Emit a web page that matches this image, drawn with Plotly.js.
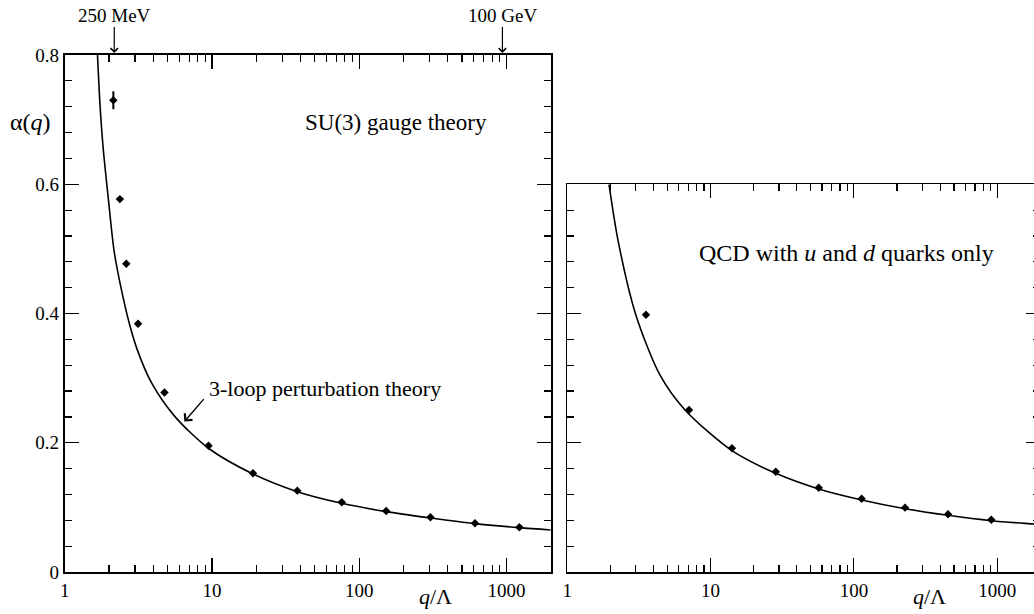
<!DOCTYPE html>
<html>
<head>
<meta charset="utf-8">
<script src="https://cdn.plot.ly/plotly-3.0.1.min.js"></script>
<style>
html,body{margin:0;padding:0;overflow:hidden;background:#fff;}
#chart{width:1042px;height:614px;}
</style>
</head>
<body>
<div id="chart"></div>
<script>
// ---- data ----
const su3Q      = [2.14, 2.37, 2.62, 3.15, 4.76, 9.48, 19.0, 38.0, 76.2, 152.6, 305, 612, 1225];
const su3Alpha  = [0.730, 0.577, 0.477, 0.384, 0.2776, 0.1955, 0.1528, 0.1259, 0.1079, 0.0944, 0.0847, 0.0754, 0.0692];
const su3Err    = [0.014, 0.004, 0, 0, 0, 0, 0, 0, 0, 0, 0, 0, 0];

const su3CurveQ     = [1.67, 1.74, 1.83, 1.98, 2.16, 2.376, 2.748, 3.113, 3.90, 5.61, 9.48, 19.0, 38.0, 76.2, 152.6, 305, 612, 1225, 2000];
const su3CurveAlpha = [0.80, 0.72, 0.653, 0.577, 0.4985, 0.447, 0.3844, 0.3437, 0.2921, 0.2404, 0.1915, 0.1517, 0.1243, 0.1063, 0.0934, 0.0836, 0.0748, 0.0686, 0.065];

const qcdQ      = [3.54, 7.07, 14.1, 28.5, 56.8, 113.3, 227.5, 454, 910];
const qcdAlpha  = [0.398, 0.2508, 0.1915, 0.1553, 0.1305, 0.1135, 0.0996, 0.0893, 0.081];

const qcdCurveQ     = [1.954, 2.27, 3.01, 4.43, 6.63, 14.1, 28.5, 56.8, 113.3, 227.5, 454, 910, 1807, 2000];
const qcdCurveAlpha = [0.600, 0.511, 0.3978, 0.305, 0.2508, 0.1878, 0.1527, 0.1285, 0.1115, 0.098, 0.0877, 0.0794, 0.0743, 0.0735];

const xTickVals  = [1, 10, 100, 1000];
const xTickText  = ['1', '10', '100', '1000'];
const yTickVals  = [0, 0.2, 0.4, 0.6, 0.8];
const yTickText  = ['0', '0.2', '0.4', '0.6', '0.8'];

const scaleMarks = [{q: 2.17, label: '250 MeV'}, {q: 940, label: '100 GeV'}];

// ---- drawing ----
const FONT = '"Liberation Serif", "Times New Roman", Times, serif';
const W = 1042, H = 614;

const traces = [
  {x: su3CurveQ, y: su3CurveAlpha, xaxis: 'x', yaxis: 'y', mode: 'lines',
   line: {color: '#000', width: 1.6, shape: 'spline', smoothing: 0.8}, hoverinfo: 'skip'},
  {x: su3Q, y: su3Alpha, xaxis: 'x', yaxis: 'y', mode: 'markers',
   marker: {symbol: 'diamond', size: 6.5, color: '#000'},
   error_y: {type: 'data', array: su3Err, visible: true, color: '#000', thickness: 2, width: 0}},
  {x: qcdCurveQ, y: qcdCurveAlpha, xaxis: 'x2', yaxis: 'y2', mode: 'lines',
   line: {color: '#000', width: 1.6, shape: 'spline', smoothing: 0.8}, hoverinfo: 'skip'},
  {x: qcdQ, y: qcdAlpha, xaxis: 'x2', yaxis: 'y2', mode: 'markers',
   marker: {symbol: 'diamond', size: 6.5, color: '#000'}}
];

function xAxis(domain, anchor) {
  return {
    type: 'log', domain: domain, anchor: anchor, range: [0, Math.log10(2000)],
    showline: true, linecolor: '#000', linewidth: 1.8, mirror: 'ticks',
    ticks: 'inside', ticklen: 14, tickwidth: 1.2, tickcolor: '#000',
    tickvals: xTickVals, ticktext: xTickText,
    tickfont: {family: FONT, size: 19, color: '#000'},
    showgrid: false, zeroline: false,
    minor: {ticks: 'inside', ticklen: 7, tickwidth: 1.2, tickcolor: '#000', dtick: 'D1', showgrid: false}
  };
}
function yAxis(domain, anchor, top, labels) {
  return {
    domain: domain, anchor: anchor, range: [0, top],
    showline: true, linecolor: '#000', linewidth: 1.8, mirror: 'ticks',
    ticks: 'inside', ticklen: 14, tickwidth: 1.2, tickcolor: '#000',
    tickvals: yTickVals, ticktext: yTickText, showticklabels: labels,
    tickfont: {family: FONT, size: 19, color: '#000'},
    showgrid: false, zeroline: false,
    minor: {ticks: 'inside', ticklen: 7, tickwidth: 1.2, tickcolor: '#000', dtick: 0.04, showgrid: false}
  };
}

const yBot = (H - 572) / H;
const layout = {
  width: W, height: H, margin: {l: 0, r: 0, t: 0, b: 0},
  paper_bgcolor: '#fff', plot_bgcolor: '#fff', showlegend: false,
  font: {family: FONT, color: '#000'},
  xaxis: xAxis([64.7 / W, 550.7 / W], 'y'),
  yaxis: yAxis([yBot, (H - 55) / H], 'x', 0.8, true),
  xaxis2: xAxis([567.3 / W, 1040.3 / W], 'y2'),
  yaxis2: yAxis([yBot, (H - 184.3) / H], 'x2', 0.6, false),
  annotations: [
    {xref: 'x', yref: 'y', x: 2.251, y: 0.695, text: 'SU(3) gauge theory', showarrow: false,
     font: {family: FONT, size: 23}},
    {xref: 'x2', yref: 'y2', x: 1.95, y: 0.4933, text: 'QCD with <i>u</i> and <i>d</i> quarks only', showarrow: false,
     font: {family: FONT, size: 24}},
    {xref: 'x', yref: 'y', x: 1.766, y: 0.2833, text: '3-loop perturbation theory', showarrow: false,
     font: {family: FONT, size: 22}},
    {xref: 'x', yref: 'y', x: 0.8125, y: 0.2327, text: '', showarrow: true, ax: 20.7, ay: -24,
     arrowhead: 4, arrowsize: 1.4, arrowwidth: 1.4, arrowcolor: '#000'},
    {xref: 'paper', yref: 'paper', x: 30 / W, y: (H - 122) / H, xanchor: 'center', yanchor: 'middle',
     text: 'α(<i>q</i>)', showarrow: false, font: {family: FONT, size: 24}},
    {xref: 'paper', yref: 'paper', x: 435 / W, y: (H - 596) / H, xanchor: 'center', yanchor: 'middle',
     text: '<i>q</i>/Λ', showarrow: false, font: {family: FONT, size: 22}},
    {xref: 'paper', yref: 'paper', x: 929.5 / W, y: (H - 596) / H, xanchor: 'center', yanchor: 'middle',
     text: '<i>q</i>/Λ', showarrow: false, font: {family: FONT, size: 22}}
  ]
};
scaleMarks.forEach(m => {
  layout.annotations.push({xref: 'x', yref: 'paper', x: Math.log10(m.q), y: (H - 53) / H,
    text: m.label, showarrow: true, ax: 0, ay: -38, arrowhead: 4, arrowsize: 1.2, arrowwidth: 1.2,
    arrowcolor: '#000', font: {family: FONT, size: 19}});
});

Plotly.newPlot('chart', traces, layout, {displayModeBar: false, staticPlot: true});
</script>
</body>
</html>
